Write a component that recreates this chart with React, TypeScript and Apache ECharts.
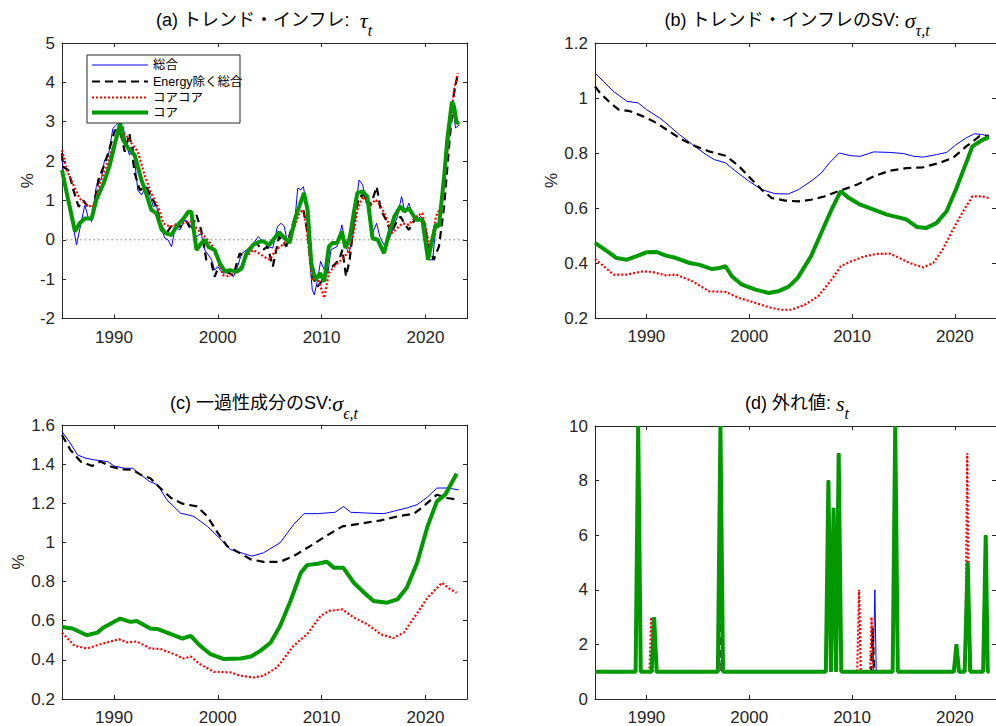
import React, { useEffect, useRef } from 'react';
import * as echarts from 'echarts';

// ---------------- data ----------------
const X_TICKS = [1990, 2000, 2010, 2020];
const X_MIN = 1985;
const X_MAX = 2024;

const SERIES_NAMES = ['総合', 'Energy除く総合', 'コアコア', 'コア'];

// (a) trend inflation
const aTotal: number[][] = [[1985.0,2.11],[1985.1,1.77],[1985.45,1.1],[1985.9,0.59],[1986.4,-0.13],[1986.7,0.25],[1987.2,0.88],[1987.5,0.59],[1987.85,0.46],[1988.3,1.35],[1988.8,1.56],[1989.1,2.03],[1989.45,2.11],[1989.9,2.83],[1990.4,2.96],[1990.7,2.83],[1990.9,2.87],[1991.2,2.41],[1991.5,2.15],[1991.85,2.37],[1992.3,1.26],[1992.65,1.14],[1993.1,1.35],[1993.5,1.1],[1993.8,0.84],[1994.1,0.88],[1994.4,0.42],[1994.9,0.04],[1995.2,0.0],[1995.55,-0.18],[1995.9,0.33],[1996.35,0.25],[1996.8,0.5],[1997.15,0.46],[1997.6,0.25],[1997.95,0.08],[1998.4,0.16],[1998.75,-0.26],[1999.1,-0.39],[1999.4,-0.51],[1999.7,-0.77],[2000.0,-0.68],[2000.5,-0.85],[2001.0,-0.81],[2001.5,-0.94],[2001.8,-0.77],[2002.3,-0.35],[2002.75,-0.26],[2003.2,-0.18],[2003.9,0.08],[2004.35,-0.05],[2004.8,-0.17],[2005.3,-0.21],[2005.75,0.34],[2006.1,0.42],[2006.4,0.34],[2006.7,-0.04],[2007.05,0.0],[2007.4,0.42],[2007.7,1.31],[2008.0,1.27],[2008.25,1.35],[2008.5,0.93],[2008.8,-0.34],[2009.1,-1.27],[2009.3,-1.4],[2009.6,-1.02],[2009.9,-0.55],[2010.25,-0.76],[2010.6,-0.85],[2010.9,-0.25],[2011.2,-0.21],[2011.5,-0.17],[2011.95,0.38],[2012.3,-0.17],[2012.65,-0.34],[2013.0,0.08],[2013.3,0.85],[2013.6,1.52],[2013.95,1.4],[2014.3,0.93],[2014.6,0.85],[2014.9,0.17],[2015.3,0.42],[2015.6,0.08],[2016.0,-0.13],[2016.5,0.0],[2017.0,0.38],[2017.3,0.59],[2017.7,1.1],[2018.05,0.68],[2018.4,0.93],[2018.75,0.64],[2019.1,0.51],[2019.55,0.59],[2020.0,0.42],[2020.35,-0.51],[2020.7,-0.51],[2021.0,0.34],[2021.3,0.42],[2021.8,1.35],[2022.3,2.71],[2022.6,3.39],[2022.9,2.84],[2023.25,2.92]];
const aExEnergy: number[][] = [[1985.0,2.2],[1985.1,1.86],[1985.6,1.77],[1986.1,1.26],[1986.6,0.84],[1987.05,1.0],[1987.5,0.84],[1988.0,0.76],[1988.5,1.52],[1989.0,1.86],[1989.45,2.2],[1990.1,2.79],[1990.6,2.75],[1991.05,2.24],[1991.5,2.7],[1992.0,1.69],[1992.5,1.26],[1993.1,1.35],[1993.6,1.1],[1994.1,0.84],[1994.6,0.33],[1995.05,0.16],[1995.7,0.42],[1996.35,0.33],[1997.0,0.46],[1997.45,0.25],[1997.95,0.63],[1998.4,0.25],[1998.9,-0.51],[1999.4,-0.6],[1999.7,-0.94],[2000.2,-0.6],[2000.8,-0.81],[2001.5,-0.9],[2002.1,-0.35],[2002.6,-0.43],[2003.1,-0.18],[2003.7,-0.09],[2004.35,-0.26],[2004.8,-0.17],[2005.3,-0.68],[2005.9,0.08],[2006.6,-0.17],[2007.2,0.38],[2007.85,0.85],[2008.25,0.76],[2008.65,0.17],[2009.1,-0.93],[2009.6,-1.19],[2010.1,-1.02],[2010.6,-0.72],[2011.05,-0.68],[2011.7,-0.51],[2012.0,-0.25],[2012.35,-0.93],[2012.7,-0.51],[2013.15,0.51],[2013.6,1.1],[2014.1,1.14],[2014.6,0.85],[2014.9,1.02],[2015.3,1.35],[2015.7,0.76],[2016.2,0.51],[2016.7,0.17],[2017.15,0.42],[2017.6,0.59],[2017.95,0.42],[2018.4,0.25],[2018.75,0.42],[2019.2,0.59],[2019.7,0.55],[2020.35,-0.17],[2020.8,-0.51],[2021.3,-0.17],[2021.8,0.85],[2022.3,2.46],[2022.75,3.73],[2023.1,4.19]];
const aCoreCore: number[][] = [[1985.0,2.28],[1985.45,1.77],[1986.1,1.39],[1986.7,1.05],[1987.4,0.88],[1988.0,0.84],[1988.65,1.43],[1989.3,1.9],[1989.9,2.36],[1990.6,2.75],[1991.2,2.66],[1991.7,2.45],[1992.3,2.24],[1993.0,1.6],[1993.6,1.18],[1994.3,0.8],[1994.75,0.42],[1995.4,0.33],[1996.0,0.38],[1996.7,0.42],[1997.45,0.46],[1998.1,0.25],[1998.9,0.04],[1999.55,-0.18],[2000.0,-0.51],[2000.5,-0.9],[2001.0,-0.92],[2001.5,-0.85],[2002.1,-0.73],[2002.75,-0.43],[2003.4,-0.26],[2004.0,-0.35],[2004.7,-0.47],[2005.0,-0.51],[2005.6,-0.25],[2006.25,-0.13],[2006.9,0.08],[2007.4,0.34],[2007.85,0.68],[2008.2,0.76],[2008.5,0.42],[2008.8,-0.34],[2009.1,-1.02],[2009.6,-0.93],[2009.9,-1.19],[2010.25,-1.48],[2010.7,-0.85],[2011.2,-0.68],[2011.9,-0.51],[2012.5,-0.34],[2013.0,0.08],[2013.45,0.76],[2013.95,1.1],[2014.6,0.85],[2015.2,1.02],[2015.7,0.85],[2016.2,0.59],[2016.8,0.17],[2017.3,0.3],[2017.8,0.42],[2018.4,0.38],[2019.1,0.59],[2019.7,0.68],[2020.2,0.08],[2020.5,-0.25],[2021.0,0.59],[2021.5,0.85],[2022.0,2.03],[2022.45,3.05],[2022.75,3.81],[2023.1,4.23]];
const aCore: number[][] = [[1985.0,1.77],[1985.6,1.01],[1986.25,0.21],[1986.7,0.42],[1987.2,0.54],[1987.85,0.54],[1988.3,1.01],[1989.0,1.43],[1989.6,1.9],[1990.1,2.45],[1990.6,2.96],[1990.9,2.53],[1991.4,2.32],[1992.0,2.15],[1992.65,1.52],[1993.1,1.18],[1993.6,0.76],[1994.1,0.67],[1994.6,0.25],[1995.05,0.16],[1995.55,0.12],[1996.0,0.33],[1996.7,0.54],[1997.15,0.71],[1997.45,0.71],[1997.95,-0.26],[1998.4,-0.09],[1998.75,0.0],[1999.1,-0.18],[1999.7,-0.26],[2000.2,-0.6],[2000.7,-0.81],[2001.15,-0.77],[2001.8,-0.81],[2002.3,-0.73],[2002.75,-0.35],[2003.4,-0.13],[2004.0,-0.05],[2004.4,-0.04],[2004.95,-0.13],[2005.9,0.19],[2006.9,-0.08],[2007.5,0.59],[2007.85,0.85],[2008.3,1.19],[2008.65,0.76],[2009.0,-0.59],[2009.4,-1.02],[2009.85,-0.85],[2010.25,-1.06],[2010.7,-0.17],[2011.05,-0.08],[2011.5,-0.08],[2011.95,0.21],[2012.3,-0.21],[2012.7,0.04],[2013.15,0.76],[2013.45,1.19],[2013.95,1.23],[2014.4,1.1],[2014.9,0.04],[2015.4,0.0],[2016.0,-0.34],[2016.5,0.17],[2017.0,0.59],[2017.6,0.85],[2017.95,0.72],[2018.4,0.8],[2019.1,0.51],[2019.7,0.51],[2020.25,-0.51],[2020.65,0.0],[2021.0,0.38],[2021.3,0.34],[2021.8,1.61],[2022.1,2.54],[2022.55,3.51],[2022.75,3.39],[2023.0,2.96],[2023.25,3.0]];
const aZeroLine: number[][] = [[1985, 0], [2024, 0]];

// (b) SV of trend inflation
const bTotal: number[][] = [[1985.0,1.091],[1985.8,1.061],[1986.8,1.024],[1988.1,0.988],[1989.2,0.982],[1990.0,0.958],[1991.3,0.927],[1991.9,0.909],[1993.2,0.867],[1994.5,0.83],[1995.8,0.794],[1996.6,0.776],[1997.7,0.764],[1998.7,0.733],[2000.0,0.697],[2001.2,0.667],[2002.5,0.652],[2003.8,0.651],[2004.8,0.667],[2006.0,0.697],[2007.0,0.727],[2007.8,0.764],[2008.75,0.8],[2009.9,0.79],[2010.8,0.788],[2012.1,0.804],[2013.7,0.802],[2015.0,0.798],[2016.0,0.788],[2016.9,0.785],[2018.2,0.794],[2019.2,0.802],[2020.1,0.83],[2021.1,0.855],[2021.9,0.87],[2022.7,0.867],[2023.3,0.861]];
const bExEnergy: number[][] = [[1985.0,1.042],[1985.5,1.018],[1986.5,0.982],[1987.3,0.958],[1988.4,0.952],[1989.7,0.933],[1991.0,0.909],[1992.2,0.879],[1993.5,0.848],[1994.8,0.824],[1996.1,0.806],[1997.7,0.79],[1999.0,0.752],[2000.1,0.709],[2001.2,0.667],[2002.2,0.636],[2003.5,0.627],[2004.8,0.624],[2006.0,0.63],[2007.3,0.642],[2008.9,0.664],[2010.5,0.685],[2012.1,0.715],[2013.7,0.736],[2015.3,0.745],[2016.9,0.748],[2018.5,0.764],[2019.8,0.782],[2021.1,0.824],[2022.4,0.861],[2023.3,0.863]];
const bCoreCore: number[][] = [[1985.0,0.415],[1986.8,0.358],[1988.1,0.358],[1989.7,0.37],[1990.6,0.367],[1991.9,0.355],[1992.9,0.358],[1994.5,0.333],[1996.1,0.297],[1997.7,0.295],[1999.0,0.273],[2000.6,0.255],[2001.9,0.239],[2003.1,0.23],[2004.1,0.23],[2005.4,0.248],[2006.7,0.279],[2008.0,0.339],[2008.9,0.388],[2009.9,0.406],[2011.2,0.424],[2012.4,0.433],[2013.7,0.434],[2014.6,0.418],[2015.6,0.4],[2016.9,0.384],[2017.9,0.4],[2018.8,0.448],[2019.8,0.521],[2020.8,0.588],[2021.7,0.642],[2022.7,0.642],[2023.3,0.636]];
const bCore: number[][] = [[1985.0,0.473],[1986.2,0.442],[1987.1,0.418],[1988.1,0.412],[1989.0,0.424],[1990.0,0.439],[1991.0,0.44],[1991.9,0.427],[1992.9,0.418],[1994.2,0.4],[1995.1,0.394],[1996.4,0.378],[1997.1,0.382],[1997.7,0.388],[1998.3,0.352],[1999.3,0.321],[2000.6,0.303],[2001.9,0.291],[2002.8,0.297],[2003.8,0.313],[2004.7,0.345],[2006.0,0.424],[2007.0,0.509],[2008.0,0.594],[2008.9,0.661],[2009.7,0.636],[2010.8,0.612],[2012.1,0.594],[2013.4,0.576],[2014.7,0.564],[2015.3,0.558],[2016.3,0.531],[2017.2,0.527],[2018.2,0.545],[2019.2,0.588],[2020.1,0.667],[2021.1,0.764],[2021.7,0.824],[2022.7,0.848],[2023.3,0.858]];

// (c) SV of transitory component
const cTotal: number[][] = [[1985.0,1.566],[1985.7,1.515],[1986.5,1.447],[1987.3,1.43],[1988.1,1.422],[1989.4,1.413],[1990.0,1.391],[1991.0,1.379],[1991.8,1.379],[1992.6,1.345],[1993.4,1.312],[1994.2,1.295],[1995.1,1.218],[1996.4,1.15],[1997.7,1.133],[1999.0,1.082],[2000.3,1.015],[2001.2,0.964],[2002.5,0.943],[2003.3,0.93],[2004.4,0.947],[2006.0,0.998],[2007.3,1.091],[2008.3,1.147],[2009.6,1.147],[2011.3,1.154],[2012.1,1.184],[2012.8,1.154],[2014.4,1.15],[2016.0,1.147],[2016.9,1.159],[2018.2,1.176],[2019.2,1.193],[2020.2,1.232],[2021.1,1.278],[2022.1,1.278],[2023.2,1.269]];
const cExEnergy: number[][] = [[1985.0,1.549],[1985.8,1.473],[1986.8,1.413],[1987.9,1.391],[1988.7,1.413],[1989.7,1.388],[1990.6,1.374],[1991.8,1.371],[1992.6,1.345],[1993.5,1.328],[1994.3,1.286],[1995.5,1.227],[1996.6,1.198],[1998.0,1.184],[1999.0,1.133],[2000.0,1.049],[2000.9,0.981],[2002.2,0.943],[2003.2,0.913],[2004.4,0.901],[2006.0,0.901],[2007.3,0.93],[2008.9,0.981],[2010.5,1.035],[2012.0,1.082],[2013.7,1.096],[2015.7,1.113],[2017.3,1.133],[2018.9,1.147],[2019.8,1.184],[2021.1,1.244],[2022.1,1.227],[2023.2,1.218]];
const cCoreCore: number[][] = [[1985.0,0.539],[1986.2,0.472],[1987.4,0.458],[1988.7,0.48],[1990.5,0.505],[1991.3,0.489],[1992.2,0.494],[1993.5,0.458],[1994.5,0.455],[1995.8,0.429],[1996.7,0.407],[1997.4,0.417],[1998.3,0.378],[1999.6,0.339],[2001.2,0.336],[2002.2,0.319],[2003.5,0.31],[2004.4,0.319],[2005.7,0.361],[2007.3,0.472],[2008.6,0.531],[2009.9,0.624],[2010.7,0.65],[2012.0,0.658],[2013.1,0.616],[2014.4,0.582],[2015.7,0.531],[2016.9,0.511],[2017.9,0.539],[2018.8,0.607],[2020.2,0.718],[2021.6,0.794],[2022.4,0.76],[2023.0,0.743]];
const cCore: number[][] = [[1985.0,0.568],[1986.0,0.56],[1987.4,0.526],[1988.4,0.539],[1989.0,0.565],[1990.6,0.611],[1991.6,0.594],[1992.2,0.599],[1993.5,0.56],[1994.3,0.556],[1995.5,0.531],[1996.6,0.509],[1997.4,0.523],[1998.3,0.472],[1999.3,0.429],[2000.6,0.404],[2002.2,0.407],[2003.2,0.417],[2004.1,0.446],[2005.1,0.489],[2006.0,0.573],[2007.0,0.701],[2008.0,0.845],[2008.6,0.884],[2009.6,0.891],[2010.5,0.901],[2011.2,0.87],[2012.1,0.87],[2013.1,0.794],[2014.1,0.743],[2015.0,0.701],[2016.3,0.692],[2017.3,0.709],[2018.2,0.768],[2019.2,0.896],[2020.2,1.082],[2021.1,1.21],[2021.9,1.244],[2023.0,1.351]];

// (d) outliers
const dTotal: number[][] = [[1985,1],[1988.95,1],[1989.2,10],[1989.45,1],[1990.5,1],[1990.75,3],[1991.0,1],[1996.95,1],[1997.2,10],[1997.45,1],[2007.45,1],[2007.7,8],[2007.95,1],[2008.2,7],[2008.45,1],[2008.7,9],[2008.95,1],[2012.05,1],[2012.22,4],[2012.35,1],[2013.95,1],[2014.2,10],[2014.45,1],[2019.9,1],[2020.15,2],[2020.4,1],[2020.95,1],[2021.2,5],[2021.45,1],[2022.75,1],[2023.0,6],[2023.2,1],[2023.35,1]];
const dExEnergy: number[][] = [[1985,1],[1988.95,1],[1989.2,10],[1989.45,1],[1990.5,1],[1990.75,3],[1991.0,1],[1996.95,1],[1997.2,10],[1997.3,1],[1997.4,2.7],[1997.5,1],[2007.45,1],[2007.7,8],[2007.95,1],[2008.2,7],[2008.45,1],[2008.7,9],[2008.95,1],[2011.85,1],[2012.0,2.6],[2012.15,1],[2013.95,1],[2014.2,10],[2014.45,1],[2019.9,1],[2020.15,2],[2020.4,1],[2020.95,1],[2021.2,5],[2021.45,1],[2022.75,1],[2023.0,6],[2023.2,1],[2023.35,1]];
const dCoreCore: number[][] = [[1985,1],[1988.95,1],[1989.2,10],[1989.45,1],[1990.3,1],[1990.47,3],[1990.64,1],[1996.95,1],[1997.2,10],[1997.45,1],[2007.45,1],[2007.7,8],[2007.95,1],[2008.2,7],[2008.45,1],[2008.7,9],[2008.95,1],[2010.5,1],[2010.68,4],[2010.85,1],[2011.75,1],[2011.9,3],[2012.05,1],[2013.95,1],[2014.2,10],[2014.45,1],[2019.9,1],[2020.15,2],[2020.4,1],[2021.0,1],[2021.2,9],[2021.4,1],[2022.75,1],[2023.0,6],[2023.2,1],[2023.35,1]];
const dCore: number[][] = [[1985,1],[1988.95,1],[1989.2,10],[1989.45,1],[1990.5,1],[1990.75,3],[1991.0,1],[1996.95,1],[1997.2,10],[1997.45,1],[2007.45,1],[2007.7,8],[2007.95,1],[2008.2,7],[2008.45,1],[2008.7,9],[2008.95,1],[2013.95,1],[2014.2,10],[2014.45,1],[2019.9,1],[2020.15,2],[2020.4,1],[2020.95,1],[2021.25,5],[2021.5,1],[2022.75,1],[2023.0,6],[2023.2,1],[2023.35,1]];

const Y_RANGES = [
  { min: -2, max: 5, interval: 1 },
  { min: 0.2, max: 1.2, interval: 0.2 },
  { min: 0.2, max: 1.6, interval: 0.2 },
  { min: 0, max: 10, interval: 2 },
];

const PANEL_DATA = [
  [aTotal, aExEnergy, aCoreCore, aCore],
  [bTotal, bExEnergy, bCoreCore, bCore],
  [cTotal, cExEnergy, cCoreCore, cCore],
  [dTotal, dExEnergy, dCoreCore, dCore],
];

const TITLES = [
  '{m|(a) トレンド・インフレ:  }{g|τ}{s|t}',
  '{m|(b) トレンド・インフレのSV: }{g|σ}{s|τ,t}',
  '{m|(c) 一過性成分のSV:}{g|σ}{s|ϵ,t}',
  '{m|(d) 外れ値: }{g|s}{s|t}',
];

// ---------------- layout / style ----------------
const FONT = 'Arial, "Liberation Sans", "Noto Sans CJK JP", sans-serif';
const SERIF = '"Liberation Serif", "Times New Roman", "DejaVu Serif", serif';
const AX = '#262626';

const GRIDS = [
  { left: 62, top: 43, width: 405, height: 275.5 },
  { left: 595, top: 43, width: 404, height: 275 },
  { left: 62, top: 425, width: 405, height: 275 },
  { left: 595, top: 426, width: 404, height: 274 },
];
const Y_NAME_GAP = [24, 34, 34, -1];

const STYLES = [
  { color: '#0000ff', width: 1, type: 'solid' as any },
  { color: '#000000', width: 2.2, type: [8, 5] as any },
  { color: '#ff0000', width: 2.2, type: [2, 2] as any },
  { color: '#009900', width: 4, type: 'solid' as any },
];

function buildOption() {
  const xAxis: any[] = [];
  const yAxis: any[] = [];
  const series: any[] = [];
  GRIDS.forEach((g, i) => {
    const tick = { show: true, inside: true, length: 4, customValues: X_TICKS, lineStyle: { color: AX, width: 1 } };
    xAxis.push({
      gridIndex: i, type: 'value', min: X_MIN, max: X_MAX, position: 'bottom',
      axisLine: { show: true, onZero: false, lineStyle: { color: AX, width: 1 } },
      axisTick: tick,
      axisLabel: { show: true, customValues: X_TICKS, color: AX, fontSize: 17, fontFamily: FONT, margin: 10, formatter: (v: number) => String(v) },
      splitLine: { show: false },
    });
    xAxis.push({
      gridIndex: i, type: 'value', min: X_MIN, max: X_MAX, position: 'top',
      axisLine: { show: true, onZero: false, lineStyle: { color: AX, width: 1 } },
      axisTick: tick,
      axisLabel: { show: false },
      splitLine: { show: false },
    });
    const yr = Y_RANGES[i];
    const ytick = { show: true, inside: true, length: 4, lineStyle: { color: AX, width: 1 } };
    yAxis.push({
      gridIndex: i, type: 'value', min: yr.min, max: yr.max, interval: yr.interval, position: 'left',
      axisLine: { show: true, onZero: false, lineStyle: { color: AX, width: 1 } },
      axisTick: ytick,
      axisLabel: { show: true, color: AX, fontSize: 17, fontFamily: FONT, margin: 7, showMinLabel: true, showMaxLabel: true },
      splitLine: { show: false },
      name: Y_NAME_GAP[i] > 0 ? '%' : '',
      nameLocation: 'middle', nameRotate: 90, nameGap: Y_NAME_GAP[i],
      nameTextStyle: { color: AX, fontSize: 17, fontFamily: FONT },
    });
    yAxis.push({
      gridIndex: i, type: 'value', min: yr.min, max: yr.max, interval: yr.interval, position: 'right',
      axisLine: { show: true, onZero: false, lineStyle: { color: AX, width: 1 } },
      axisTick: ytick,
      axisLabel: { show: false },
      splitLine: { show: false },
    });
    if (i === 0) {
      series.push({
        type: 'line', xAxisIndex: 0, yAxisIndex: 0, data: aZeroLine, symbol: 'none', silent: true,
        lineStyle: { color: '#808080', width: 1, type: [1.5, 3] },
      });
    }
    PANEL_DATA[i].forEach((d, k) => {
      const st = STYLES[k];
      series.push({
        name: SERIES_NAMES[k], type: 'line', xAxisIndex: 2 * i, yAxisIndex: 2 * i, data: d,
        symbol: 'none', showSymbol: false, smooth: false,
        lineStyle: { color: st.color, width: st.width, type: st.type },
        itemStyle: { color: st.color },
      });
    });
  });

  const rich = {
    m: { fontFamily: FONT, fontSize: 18, fill: '#000', lineHeight: 36 },
    g: { fontFamily: SERIF, fontStyle: 'italic', fontSize: 22, fill: '#000', lineHeight: 36 },
    s: { fontFamily: SERIF, fontStyle: 'italic', fontSize: 16, fill: '#000', lineHeight: 14, verticalAlign: 'bottom' },
  };
  const titleY = [20, 20, 403, 403];
  const graphic: any[] = TITLES.map((t, i) => ({
    type: 'text', x: GRIDS[i].left + 202, y: titleY[i], z: 100,
    style: { text: t, rich, align: 'center', verticalAlign: 'middle', fill: '#000' },
  }));

  // legend in panel (a)
  const lg = { x: 87, y: 55, w: 153, h: 68 };
  graphic.push({
    type: 'rect', z: 100, shape: { x: lg.x, y: lg.y, width: lg.w, height: lg.h },
    style: { fill: '#fff', stroke: AX, lineWidth: 1 },
  });
  const rowsY = [65, 81.5, 97.5, 112.5];
  SERIES_NAMES.forEach((n, k) => {
    const st = STYLES[k];
    graphic.push({
      type: 'line', z: 101, shape: { x1: 92, y1: rowsY[k], x2: 148, y2: rowsY[k] },
      style: { stroke: st.color, lineWidth: st.width, lineDash: Array.isArray(st.type) ? st.type : null },
    });
    graphic.push({
      type: 'text', z: 101, x: 153, y: rowsY[k],
      style: { text: n, fontFamily: FONT, fontSize: 12.5, fill: '#000', verticalAlign: 'middle', align: 'left' },
    });
  });

  return {
    animation: false,
    backgroundColor: '#ffffff',
    grid: GRIDS.map((g) => ({ ...g, containLabel: false })),
    xAxis, yAxis, series, graphic,
  };
}

export default function App() {
  const ref = useRef<HTMLDivElement>(null);
  useEffect(() => {
    document.body.style.margin = '0';
    if (!ref.current) return;
    const chart = echarts.init(ref.current, undefined, { renderer: 'svg' });
    chart.setOption(buildOption() as any);
    return () => chart.dispose();
  }, []);
  return <div ref={ref} style={{ position: 'fixed', left: 0, top: 0, width: 996, height: 726, background: '#fff' }} />;
}
